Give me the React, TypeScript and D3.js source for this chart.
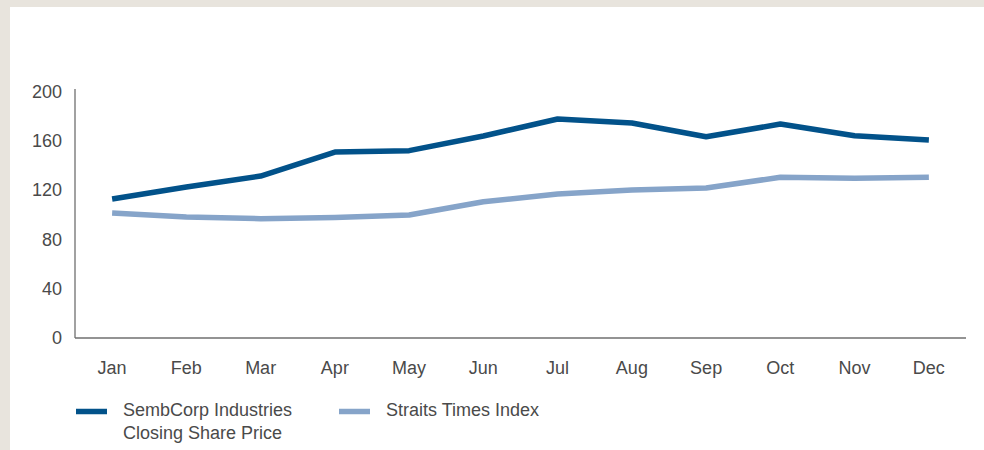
import * as d3 from 'd3'

const months = ['Jan', 'Feb', 'Mar', 'Apr', 'May', 'Jun', 'Jul', 'Aug', 'Sep', 'Oct', 'Nov', 'Dec']
const sembcorp = [112.8, 122.5, 131.4, 150.9, 152, 163.9, 177.7, 174.4, 163.3, 173.6, 164.1, 160.6]
const sti = [101.4, 98.2, 96.8, 97.8, 99.8, 110.6, 116.8, 120, 121.7, 130.4, 129.6, 130.4]
const yTicks = [0, 40, 80, 120, 160, 200]
const legendLabels = [['SembCorp Industries', 'Closing Share Price'], ['Straits Times Index']]

const W = 984
const H = 450
const DARK = '#02528a'
const LIGHT = '#86a4c9'
const TEXT = '#4a4a4a'
const FONT = '"Liberation Sans", Arial, sans-serif'

export default function App() {
  const x = d3.scalePoint<string>().domain(months).range([75, 966]).padding(0.5)
  const y = d3.scaleLinear([0, 200], [338, 91.5])
  const line = d3
    .line<number>()
    .x((_, i) => x(months[i]) as number)
    .y((d) => y(d))

  const series = [
    { data: sembcorp, color: DARK, width: 5.5 },
    { data: sti, color: LIGHT, width: 5.5 },
  ]
  const legendX = [76, 339]

  return (
    <svg
      width={W}
      height={H}
      style={{ position: 'absolute', left: 0, top: 0 }}
      fontFamily={FONT}
    >
      <rect x={0} y={0} width={W} height={H} fill="#e8e4dd" />
      <rect x={10} y={7} width={W - 10} height={H - 7} fill="#ffffff" />

      {/* axes */}
      <line x1={75} x2={75} y1={89} y2={338} stroke="#6f6f6f" strokeWidth={1.3} />
      <line x1={75} x2={966} y1={338} y2={338} stroke="#6f6f6f" strokeWidth={1.3} />

      {yTicks.map((t) => (
        <text key={t} x={62} y={y(t)} dy="0.35em" textAnchor="end" fontSize={18} fill={TEXT}>
          {t}
        </text>
      ))}
      {months.map((m) => (
        <text key={m} x={x(m)} y={368} dy="0.35em" textAnchor="middle" fontSize={18} fill={TEXT}>
          {m}
        </text>
      ))}

      {series
        .slice()
        .reverse()
        .map((s, i) => (
          <path
            key={i}
            d={line(s.data) || undefined}
            fill="none"
            stroke={s.color}
            strokeWidth={s.width}
            strokeLinejoin="round"
          />
        ))}

      {legendLabels.map((lines, i) => (
        <g key={i}>
          <line
            x1={legendX[i]}
            x2={legendX[i] + 31}
            y1={411.5}
            y2={411.5}
            stroke={series[i].color}
            strokeWidth={5.5}
          />
          {lines.map((l, j) => (
            <text
              key={j}
              x={legendX[i] + 47}
              y={410 + j * 23}
              dy="0.35em"
              fontSize={18}
              fill={TEXT}
            >
              {l}
            </text>
          ))}
        </g>
      ))}
    </svg>
  )
}
